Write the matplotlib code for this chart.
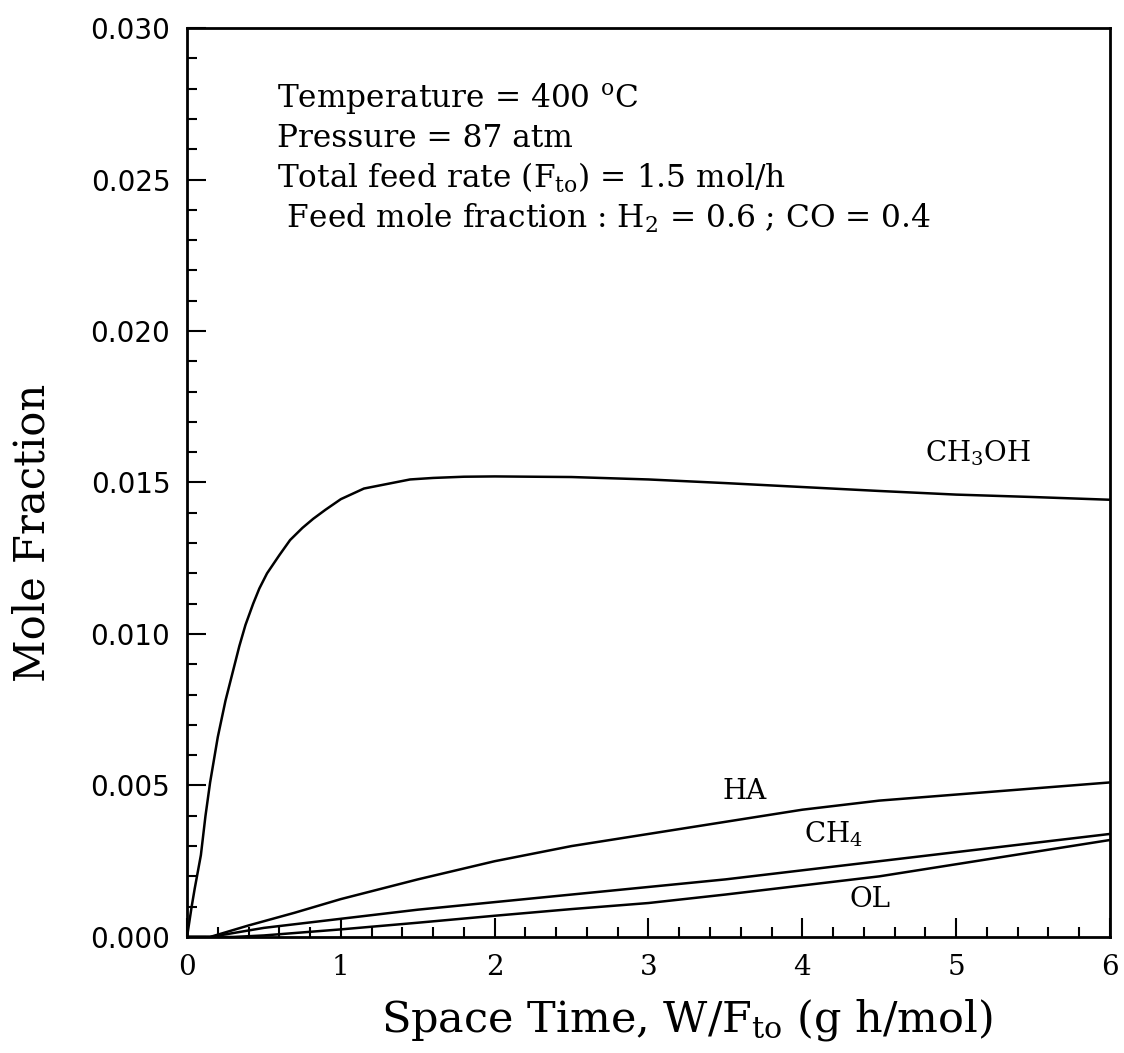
import matplotlib
matplotlib.use("Agg")
import matplotlib.pyplot as plt
from matplotlib.ticker import MultipleLocator, FormatStrFormatter

plt.rcParams["mathtext.fontset"] = "dejavuserif"

# space time W/F_to (g h/mol) and mole fractions
x_meoh = [0, 0.03, 0.05, 0.09, 0.12, 0.15, 0.2, 0.25, 0.3, 0.34, 0.38, 0.43,
          0.47, 0.52, 0.6, 0.67, 0.75, 0.82, 0.9, 1.0, 1.15, 1.3, 1.45, 1.6,
          1.8, 2.0, 2.5, 3.0, 3.5, 4.0, 4.5, 5.0, 5.5, 6.0]
y_meoh = [0, 0.0010, 0.0016, 0.0027, 0.0040, 0.0051, 0.0066, 0.0078, 0.0088,
          0.0096, 0.0103, 0.0110, 0.0115, 0.0120, 0.0126, 0.0131, 0.0135,
          0.0138, 0.0141, 0.01445, 0.0148, 0.01495, 0.0151, 0.01515, 0.01519,
          0.0152, 0.01518, 0.0151, 0.01498, 0.01485, 0.01472, 0.0146, 0.01452,
          0.01443]

x_ha = [0, 0.15, 0.4, 0.7, 1.0, 1.5, 2.0, 2.5, 3.0, 3.5, 4.0, 4.5, 5.0, 5.5, 6.0]
y_ha = [0, 0, 0.00038, 0.0008, 0.00125, 0.0019, 0.0025, 0.0030, 0.0034,
        0.0038, 0.0042, 0.0045, 0.0047, 0.0049, 0.0051]

x_ch4 = [0, 0.15, 0.5, 1.0, 1.5, 2.0, 2.5, 3.0, 3.5, 4.0, 4.5, 5.0, 5.5, 6.0]
y_ch4 = [0, 0, 0.0003, 0.0006, 0.0009, 0.00115, 0.0014, 0.00165, 0.0019,
         0.0022, 0.0025, 0.0028, 0.0031, 0.0034]

x_ol = [0, 0.3, 0.5, 1.0, 1.5, 2.0, 2.5, 3.0, 3.5, 4.0, 4.5, 5.0, 5.5, 6.0]
y_ol = [0, 0, 0.00005, 0.00025, 0.00047, 0.0007, 0.00092, 0.00112, 0.0014,
        0.0017, 0.0020, 0.0024, 0.0028, 0.0032]

conditions = [
    r"Temperature = 400 $^{\mathregular{o}}$C",
    "Pressure = 87 atm",
    r"Total feed rate (F$_{\mathregular{to}}$) = 1.5 mol/h",
    r" Feed mole fraction : H$_{\mathregular{2}}$ = 0.6 ; CO = 0.4",
]

serif = "DejaVu Serif"

fig = plt.figure(figsize=(11.24, 10.53), dpi=100)
ax = fig.add_axes([0.1664, 0.1102, 0.8211, 0.8632])

for xs, ys in [(x_meoh, y_meoh), (x_ha, y_ha), (x_ch4, y_ch4), (x_ol, y_ol)]:
    ax.plot(xs, ys, color="black", lw=1.8)

ax.set_xlim(0, 6)
ax.set_ylim(0, 0.030)
ax.xaxis.set_major_locator(MultipleLocator(1))
ax.xaxis.set_minor_locator(MultipleLocator(0.2))
ax.yaxis.set_major_locator(MultipleLocator(0.005))
ax.yaxis.set_minor_locator(MultipleLocator(0.001))
ax.yaxis.set_major_formatter(FormatStrFormatter("%.3f"))
ax.tick_params(which="both", direction="in", top=False, right=False, width=1.5)
ax.tick_params(which="major", length=14, pad=12)
ax.tick_params(which="minor", length=7)
ax.tick_params(axis="y", labelsize=20)
ax.tick_params(axis="x", labelsize=20)
for lab in ax.get_xticklabels():
    lab.set_family(serif)
for lab in ax.get_yticklabels():
    lab.set_family("DejaVu Sans")
for sp in ax.spines.values():
    sp.set_linewidth(2)

ax.set_xlabel(r"Space Time, W/F$_{\mathregular{to}}$ (g h/mol)",
              family=serif, fontsize=31)
ax.xaxis.set_label_coords(0.542, -0.066)
ax.set_ylabel("Mole Fraction", family=serif, fontsize=30)
ax.yaxis.set_label_coords(-0.145, 0.445)

for i, line in enumerate(conditions):
    ax.text(0.098, 0.922 - i * 0.0437, line, transform=ax.transAxes,
            family=serif, fontsize=22.5, va="center", ha="left")

ax.text(4.80, 0.0157, r"CH$_{\mathregular{3}}$OH", family=serif, fontsize=20)
ax.text(3.48, 0.00454, "HA", family=serif, fontsize=20)
ax.text(4.01, 0.00312, r"CH$_{\mathregular{4}}$", family=serif, fontsize=20)
ax.text(4.31, 0.00099, "OL", family=serif, fontsize=20)

fig.savefig("out.png", dpi=100)
